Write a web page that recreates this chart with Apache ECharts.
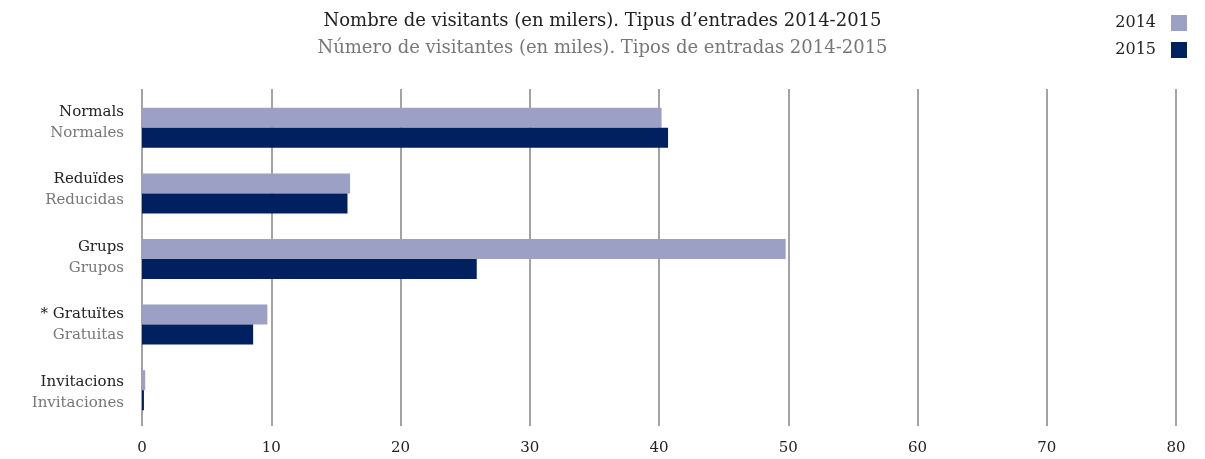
<!DOCTYPE html>
<html>
<head>
<meta charset="utf-8">
<script src="https://cdn.jsdelivr.net/npm/echarts@6/dist/echarts.min.js"></script>
<style>
  html, body { margin: 0; padding: 0; background: #fff; }
  #chart { width: 1205px; height: 459px; }
</style>
</head>
<body>
<div id="chart"></div>
<script>
// categories (catalan / castellano)
const categoriesCa = ['Normals', 'Reduïdes', 'Grups', '* Gratuïtes', 'Invitacions']
const categoriesEs = ['Normales', 'Reducidas', 'Grupos', 'Gratuitas', 'Invitaciones']
// values in thousands
const values2014 = [40.2, 16.1, 49.8, 9.7, 0.25]
const values2015 = [40.7, 15.9, 25.9, 8.6, 0.15]
const xTicks = [0, 10, 20, 30, 40, 50, 60, 70, 80]

const font = 'DejaVu Serif'
const chart = echarts.init(document.getElementById('chart'))

chart.setOption({
  textStyle: { fontFamily: font },
  title: {
    text: 'Nombre de visitants (en milers). Tipus d\u2019entrades 2014-2015',
    subtext: 'Número de visitantes (en miles). Tipos de entradas 2014-2015',
    left: 'center',
    top: 7,
    itemGap: 9,
    textStyle: { fontFamily: font, fontSize: 18, fontWeight: 'normal', color: '#222' },
    subtextStyle: { fontFamily: font, fontSize: 18, color: '#777' },
  },
  legend: {
    orient: 'vertical',
    right: 13,
    top: 10,
    align: 'right',
    itemWidth: 16,
    itemHeight: 16,
    itemGap: 11,
    icon: 'rect',
    textStyle: { fontFamily: font, fontSize: 16, color: '#222', padding: [0, 10, 0, 0] },
    data: ['2014', '2015'],
  },
  // grid 0: split lines + labels, grid 1: bars
  grid: [
    { left: 142, right: 29, top: 89, bottom: 33 },
    { left: 142, right: 29, top: 95, bottom: 36 },
  ],
  xAxis: [
    {
      gridIndex: 0,
      type: 'value',
      min: 0,
      max: 80,
      interval: 10,
      axisLine: { show: false },
      axisTick: { show: false },
      splitLine: { show: true, showMinLine: true, showMaxLine: true, lineStyle: { color: '#858585', width: 1.5 } },
      axisLabel: {
        margin: 15,
        fontSize: 15,
        color: '#222',
        formatter: (v) => (xTicks.indexOf(v) >= 0 ? String(v) : ''),
      },
    },
    {
      gridIndex: 1,
      type: 'value',
      min: 0,
      max: 80,
      interval: 10,
      show: false,
      splitLine: { show: false },
    },
  ],
  yAxis: [
    {
      gridIndex: 0,
      type: 'category',
      inverse: true,
      data: categoriesCa,
      axisLine: { show: false },
      axisTick: { show: false },
      axisLabel: {
        margin: 18,
        formatter: (v, i) => '{a|' + v + '}\n{b|' + categoriesEs[i] + '}',
        rich: {
          a: { fontFamily: font, fontSize: 15, color: '#222', lineHeight: 21, align: 'right' },
          b: { fontFamily: font, fontSize: 15, color: '#777', lineHeight: 21, align: 'right' },
        },
      },
    },
    {
      gridIndex: 1,
      type: 'category',
      inverse: true,
      data: categoriesCa,
      show: false,
    },
  ],
  series: [
    {
      name: '2014',
      type: 'bar',
      xAxisIndex: 1,
      yAxisIndex: 1,
      data: values2014,
      barWidth: 20,
      barGap: 0,
      itemStyle: { color: '#9ba0c4' },
    },
    {
      name: '2015',
      type: 'bar',
      xAxisIndex: 1,
      yAxisIndex: 1,
      data: values2015,
      barWidth: 20,
      barGap: 0,
      itemStyle: { color: '#002060' },
    },
  ],
})
</script>
</body>
</html>
